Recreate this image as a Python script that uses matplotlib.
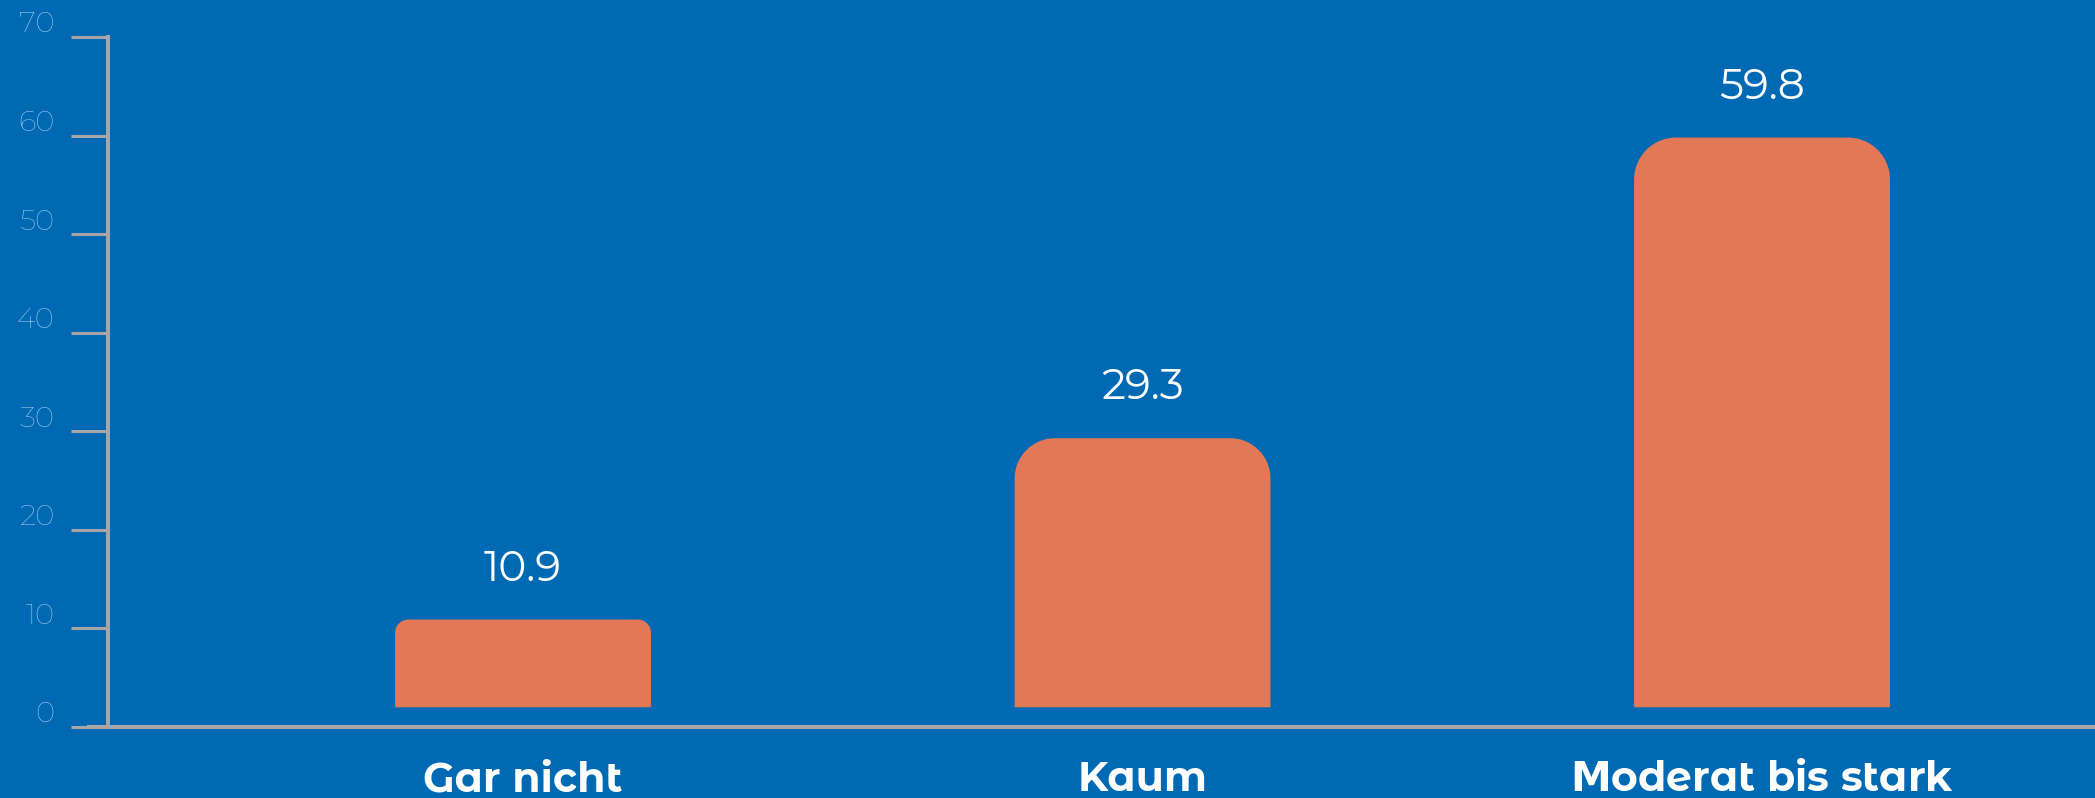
import numpy as np
import matplotlib.pyplot as plt
import matplotlib.transforms as mtransforms
from matplotlib.path import Path
from matplotlib.patches import PathPatch

categories = ['Gar nicht', 'Kaum', 'Moderat bis stark']
values = [10.9, 29.3, 59.8]
y_ticks = [0, 10, 20, 30, 40, 50, 60, 70]

bg = '#0069b4'
bar_color = '#e27855'
axis_gray = '#a6a6a6'
tick_blue = '#b0cfee'

# Montserrat Alternates has a round "M", so that one letter comes from mathtext
plt.rcParams['mathtext.fontset'] = 'custom'
plt.rcParams['mathtext.bf'] = 'DejaVu Sans:bold'

W, H = 2095, 798
fig = plt.figure(figsize=(W / 100, H / 100), dpi=100, facecolor=bg)
ax = fig.add_axes([108 / W, 71 / H, 1 - 108 / W, 690 / H])
ax.set_facecolor(bg)
ax.set_xlim(-0.67, 2.5375)
ax.set_ylim(0, 70)

x = np.arange(len(categories))
base = 2.0  # bars float slightly above the axis line
bars = ax.bar(x, np.array(values) - base, bottom=base, width=0.413, color=bar_color)

# swap plain rectangles for ones with rounded top corners
px_x = ax.get_position().width * W / (ax.get_xlim()[1] - ax.get_xlim()[0])
px_y = ax.get_position().height * H / (ax.get_ylim()[1] - ax.get_ylim()[0])
k = 0.5523
for b in bars:
    x0, y0 = b.get_x(), b.get_y()
    w, h = b.get_width(), b.get_height()
    r = min(42, h * px_y * 0.15)
    rx, ry = r / px_x, r / px_y
    top = y0 + h
    verts = [(x0, y0), (x0, top - ry),
             (x0, top - ry + k * ry), (x0 + rx - k * rx, top), (x0 + rx, top),
             (x0 + w - rx, top),
             (x0 + w - rx + k * rx, top), (x0 + w, top - ry + k * ry), (x0 + w, top - ry),
             (x0 + w, y0), (x0, y0)]
    codes = [Path.MOVETO, Path.LINETO,
             Path.CURVE4, Path.CURVE4, Path.CURVE4,
             Path.LINETO,
             Path.CURVE4, Path.CURVE4, Path.CURVE4,
             Path.LINETO, Path.CLOSEPOLY]
    b.remove()
    ax.add_patch(PathPatch(Path(verts, codes), facecolor=bar_color, edgecolor='none'))

for xi, v in zip(x, values):
    ax.annotate(f'{v}', (xi, v), xytext=(0, 28), textcoords='offset points',
                ha='center', va='baseline', color='white', fontsize=30.5,
                family='Montserrat Alternates')

for s in ['top', 'right', 'bottom']:
    ax.spines[s].set_visible(False)
ax.spines['left'].set_color(axis_gray)
ax.spines['left'].set_linewidth(2.9)
ax.plot([-21 / (W - 108), 1], [0, 0], transform=ax.transAxes, color=axis_gray,
        lw=2.9, clip_on=False, solid_capstyle='butt')

ax.set_yticks(y_ticks)
ax.set_yticklabels([str(t) for t in y_ticks], fontsize=21, family='Montserrat',
                   color=tick_blue)
ax.tick_params(axis='y', length=26.6, width=2.2, color=axis_gray, pad=12)
shift = mtransforms.ScaledTranslation(0, 15 / 100, fig.dpi_scale_trans)
for lab in ax.get_yticklabels():
    lab.set_transform(lab.get_transform() + shift)

xlabels = [c.replace('M', r'$\mathbf{M}$', 1) for c in categories]
ax.set_xticks(x)
ax.set_xticklabels(xlabels, fontsize=29.5, fontweight='bold', color='white',
                   family='Montserrat Alternates')
ax.tick_params(axis='x', length=0, pad=23.5)

fig.savefig('out.png', dpi=100, facecolor=bg)
